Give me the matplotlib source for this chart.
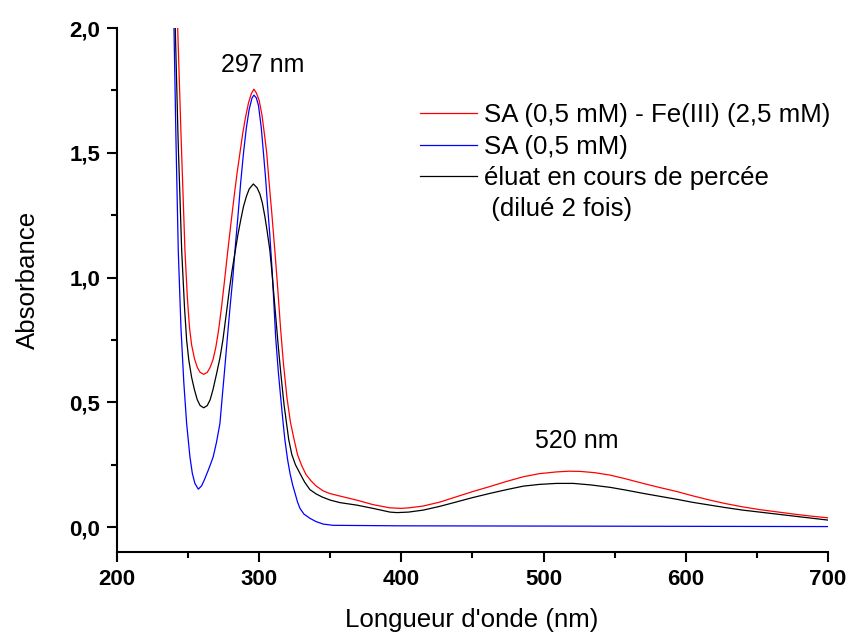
import numpy as np
import matplotlib
matplotlib.use("Agg")
import matplotlib.pyplot as plt
from matplotlib.lines import Line2D
from matplotlib.ticker import MultipleLocator

plt.rcParams['font.family'] = ['Liberation Sans', 'DejaVu Sans']

# SA (0,5 mM) - Fe(III) (2,5 mM)
red_nm = [240.0, 242.7, 245.0, 247.8, 249.5, 251.0, 252.5, 254.5, 256.5, 258.5, 261.0,
          263.5, 265.5, 267.5, 269.5, 271.5, 273.5, 275.5, 277.8, 280.0, 282.5, 284.5,
          286.5, 288.5, 290.5, 292.5, 294.5, 296.3, 298.0, 300.0, 302.0, 303.8, 305.3,
          307.0, 309.0, 311.0, 313.0, 315.0, 317.0, 319.5, 322.0, 324.6, 327.0, 330.0,
          333.0, 336.5, 340.0, 345.0, 350.0, 357.0, 368.6, 380.0, 392.0, 400.0, 405.0,
          415.0, 427.0, 439.0, 450.0, 462.0, 474.0, 486.0, 497.0, 509.0, 518.0, 526.0,
          536.0, 547.0, 558.0, 570.0, 582.0, 594.0, 605.0, 617.0, 628.0, 640.0, 652.0,
          664.0, 676.0, 688.0, 700.0]
red_abs = [2.47, 2.00, 1.58, 1.11, 0.92, 0.80, 0.73, 0.675, 0.64, 0.620, 0.612,
           0.620, 0.64, 0.67, 0.72, 0.79, 0.88, 0.98, 1.10, 1.21, 1.33, 1.42,
           1.50, 1.58, 1.645, 1.70, 1.737, 1.755, 1.74, 1.71, 1.65, 1.57, 1.50,
           1.38, 1.25, 1.11, 0.96, 0.80, 0.66, 0.52, 0.42, 0.35, 0.29, 0.245,
           0.21, 0.185, 0.165, 0.145, 0.134, 0.124, 0.108, 0.090, 0.077, 0.075, 0.077,
           0.084, 0.100, 0.122, 0.142, 0.162, 0.183, 0.202, 0.214, 0.221, 0.224, 0.223,
           0.218, 0.208, 0.193, 0.175, 0.158, 0.142, 0.125, 0.108, 0.094, 0.081, 0.070,
           0.061, 0.052, 0.044, 0.037]

# SA (0,5 mM)
blue_nm = [238.0, 240.1, 241.5, 243.1, 245.0, 247.0, 249.0, 251.3, 253.0, 254.8, 257.2,
           259.5, 261.5, 264.0, 266.0, 267.7, 270.0, 272.4, 274.0, 275.5, 277.5, 279.5,
           281.5, 283.0, 285.0, 287.0, 289.0, 291.0, 293.0, 295.0, 296.3, 298.0, 299.5,
           301.5, 303.0, 304.5, 306.0, 307.5, 309.2, 310.5, 311.6, 313.5, 315.3, 316.8,
           318.1, 320.0, 321.7, 323.5, 325.2, 327.0, 328.7, 331.5, 335.7, 340.0, 345.0,
           352.0, 400.0, 500.0, 600.0, 700.0]
blue_abs = [2.60, 2.00, 1.55, 1.11, 0.80, 0.58, 0.415, 0.282, 0.215, 0.175, 0.152,
            0.165, 0.19, 0.225, 0.255, 0.282, 0.34, 0.415, 0.52, 0.616, 0.75, 0.88,
            1.00, 1.11, 1.24, 1.38, 1.50, 1.60, 1.675, 1.72, 1.731, 1.72, 1.69,
            1.60, 1.50, 1.40, 1.28, 1.17, 1.02, 0.88, 0.76, 0.62, 0.509, 0.42,
            0.349, 0.27, 0.215, 0.17, 0.136, 0.10, 0.075, 0.052, 0.035, 0.022, 0.012,
            0.007, 0.005, 0.004, 0.003, 0.002]

# eluat en cours de percee (dilue 2 fois)
black_nm = [239.0, 241.0, 243.0, 245.5, 247.5, 249.0, 250.5, 252.5, 254.5, 256.5, 258.5,
            261.0, 263.5, 265.5, 267.5, 270.1, 272.5, 274.5, 277.0, 279.0, 281.0, 283.0,
            285.0, 287.0, 289.0, 291.0, 293.0, 295.9, 298.5, 300.5, 302.2, 304.0, 305.5,
            307.5, 309.0, 310.5, 312.0, 313.5, 315.5, 317.5, 320.8, 323.0, 325.5, 328.7,
            332.0, 335.7, 340.0, 344.5, 350.0, 356.8, 368.6, 380.0, 392.0, 397.0, 405.0,
            415.4, 427.0, 438.9, 450.0, 462.3, 474.0, 485.7, 497.0, 509.0, 521.0, 533.0,
            547.0, 558.0, 570.0, 582.0, 594.0, 605.0, 617.0, 628.0, 640.0, 652.0, 664.0,
            676.0, 688.0, 700.0]
black_abs = [2.40, 2.00, 1.55, 1.11, 0.88, 0.749, 0.67, 0.60, 0.55, 0.51, 0.487,
             0.478, 0.487, 0.51, 0.55, 0.616, 0.68, 0.75, 0.86, 0.95, 1.03, 1.10,
             1.17, 1.23, 1.285, 1.325, 1.355, 1.375, 1.36, 1.335, 1.30, 1.245, 1.19,
             1.11, 1.02, 0.92, 0.82, 0.72, 0.60, 0.49, 0.35, 0.29, 0.25, 0.215,
             0.18, 0.15, 0.133, 0.12, 0.108, 0.098, 0.088, 0.075, 0.060, 0.058, 0.060,
             0.068, 0.083, 0.101, 0.118, 0.135, 0.150, 0.164, 0.171, 0.175, 0.175, 0.169,
             0.159, 0.148, 0.135, 0.123, 0.111, 0.099, 0.088, 0.078, 0.068, 0.060, 0.052,
             0.044, 0.036, 0.028]

labels = ['SA (0,5 mM) - Fe(III) (2,5 mM)', 'SA (0,5 mM)',
          '\u00e9luat en cours de perc\u00e9e', ' (dilu\u00e9 2 fois)']

xticks = [200, 300, 400, 500, 600, 700]
yticks = [0.0, 0.5, 1.0, 1.5, 2.0]
yticklabels = ['0,0', '0,5', '1,0', '1,5', '2,0']

fig = plt.figure(figsize=(8.5, 6.34), dpi=100)
ax = fig.add_axes([0.1376, 0.1293, 0.8365, 0.8265])

l1, = ax.plot(red_nm, red_abs, color='red', lw=0.9)
l2, = ax.plot(blue_nm, blue_abs, color='blue', lw=0.9)
l3, = ax.plot(black_nm, black_abs, color='black', lw=0.9)
blank = Line2D([], [], color='none')

ax.set_xlim(200, 700)
ax.set_ylim(-0.1, 2.0)
ax.set_xticks(xticks)
ax.set_xticklabels([str(t) for t in xticks])
ax.set_yticks(yticks)
ax.set_yticklabels(yticklabels)
ax.xaxis.set_minor_locator(MultipleLocator(50))
ax.yaxis.set_minor_locator(MultipleLocator(0.25))

for s in ['top', 'right']:
    ax.spines[s].set_visible(False)
for s in ['left', 'bottom']:
    ax.spines[s].set_linewidth(1.5)

ax.tick_params(which='major', direction='out', length=7, width=1.5, labelsize=16, pad=5)
ax.tick_params(which='minor', direction='out', length=4, width=1.5)
for lab in ax.get_xticklabels() + ax.get_yticklabels():
    lab.set_fontweight('bold')

ax.set_xlabel("Longueur d'onde (nm)", fontsize=18.6)
ax.set_ylabel('Absorbance', fontsize=18.6)
ax.xaxis.set_label_coords(0.499, -0.13)
ax.xaxis.label.set_va('center')
ax.yaxis.set_label_coords(-0.125, 0.519)
ax.yaxis.label.set_va('center')

ax.text(302.7, 1.85, '297 nm', fontsize=18, ha='center', va='center')
ax.text(523, 0.345, '520 nm', fontsize=18, ha='center', va='center')

ax.legend([l1, l2, l3, blank], labels, loc='upper left', bbox_to_anchor=(0.426, 0.856),
          frameon=False, fontsize=18.6, handlelength=2.2, handletextpad=0.3,
          labelspacing=0.275, borderpad=0, borderaxespad=0)

fig.savefig('out.png', dpi=100)
